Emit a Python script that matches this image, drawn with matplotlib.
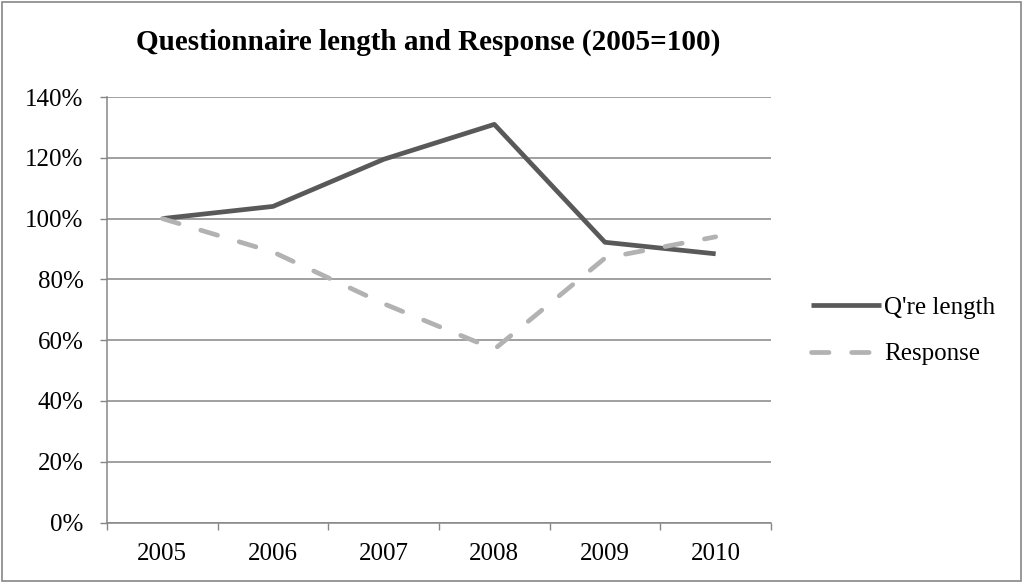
import matplotlib
matplotlib.use('Agg')
import matplotlib.pyplot as plt
from matplotlib.patches import Rectangle
from matplotlib.ticker import FuncFormatter, FixedLocator

years = ['2005', '2006', '2007', '2008', '2009', '2010']
qre_length = [100, 104, 119.5, 131, 92.2, 88.4]
response = [100, 89, 72, 57, 87, 94]
y_ticks = [0, 20, 40, 60, 80, 100, 120, 140]

plt.rcParams['font.family'] = ['Liberation Serif', 'DejaVu Serif']

W, H = 1023, 582
fig = plt.figure(figsize=(W / 100, H / 100), dpi=100)
ax = fig.add_axes([107 / W, 1 - 522.5 / H, (771 - 107) / W, (522.5 - 97) / H])

x = list(range(len(years)))
ax.plot(x, qre_length, color='#595959', lw=3.4, solid_capstyle='butt',
        label="Q're length", zorder=3)
ax.plot(x, response, color='#b2b2b2', lw=3.4, dashes=(3.7, 4.8),
        dash_capstyle='round', label='Response', zorder=3)

ax.set_xlim(-0.5, len(years) - 0.5)
ax.set_ylim(0, 140)
ax.set_yticks(y_ticks)
ax.yaxis.set_major_formatter(FuncFormatter(lambda v, p: f'{v:.0f}%'))
ax.set_xticks(x)
ax.set_xticklabels(years)
ax.xaxis.set_minor_locator(FixedLocator([i - 0.5 for i in range(len(years) + 1)]))
ax.tick_params(axis='x', which='major', length=0, pad=15, labelsize=18)
ax.tick_params(axis='x', which='minor', length=5, width=1, color='#868686', direction='out')
ax.tick_params(axis='y', length=5, width=1, color='#868686', direction='out',
               pad=12, labelsize=18)

ax.grid(axis='y', color='#868686', lw=1.1)
ax.set_axisbelow(True)
for s in ['top', 'right']:
    ax.spines[s].set_visible(False)
for s in ['left', 'bottom']:
    ax.spines[s].set_color('#868686')
    ax.spines[s].set_linewidth(1.1)

fig.text(428 / W, 1 - 42 / H, 'Questionnaire length and Response (2005=100)',
         ha='center', va='center', fontsize=21, fontweight='bold')

leg = fig.legend(loc='center left', bbox_to_anchor=(788 / W, 1 - 331 / H),
                 frameon=False, fontsize=18, handlelength=2.8,
                 handletextpad=0.15, labelspacing=0.95)

fig.add_artist(Rectangle((0.002, 0.002), 0.996, 0.994, transform=fig.transFigure,
                         fill=False, edgecolor='#868686', lw=1.2))

fig.savefig('out.png', dpi=100)
